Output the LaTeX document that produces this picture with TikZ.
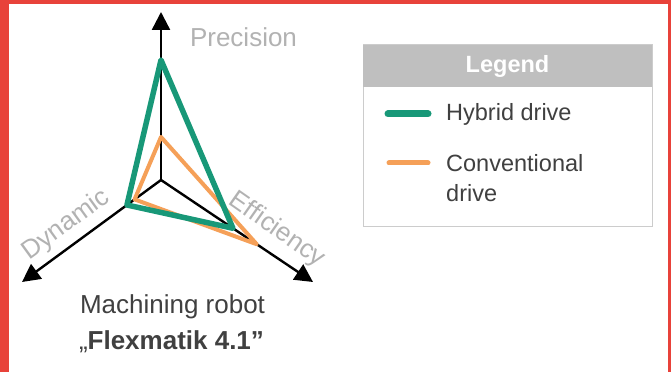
\documentclass[tikz,border=0pt]{standalone}
\usepackage{fontspec}
\setmainfont{Liberation Sans}
\usetikzlibrary{arrows.meta,positioning,calc}
\definecolor{framered}{RGB}{232,66,58}
\definecolor{hybridcolor}{RGB}{24,152,120}
\definecolor{convcolor}{RGB}{245,160,88}
\definecolor{axislabel}{RGB}{178,178,178}
\definecolor{legendgray}{RGB}{191,191,191}
\definecolor{textdark}{RGB}{64,64,64}

\begin{document}
\begin{tikzpicture}[x=1pt, y=1pt,
  axis/.style={-{Triangle[length=18pt, width=18pt]}, line width=2.4pt},
  axlab/.style={text=axislabel, font=\fontsize{26}{30}\selectfont, inner sep=0pt},
  hybrid/.style={draw=hybridcolor, line width=5.5pt, line join=round},
  conv/.style={draw=convcolor, line width=4pt, line join=round},
  title/.style={text=textdark, font=\fontsize{26}{30}\selectfont, inner sep=0pt},
  legtext/.style={text=textdark, font=\fontsize{23.5}{30}\selectfont, inner sep=0pt, align=left}
]
% frame
\fill[framered] (0,0) rectangle (671,372);
\fill[white] (9,0) rectangle (668,368);
\useasboundingbox (0,0) rectangle (671,372);

% axes
\coordinate (C) at (161,192);
\coordinate (P) at (161,360);
\coordinate (D) at (22,90);
\coordinate (E) at (313,90);
\draw[axis] (C) -- (P);
\draw[axis] (C) -- (D);
\draw[axis] (C) -- (E);

\node[axlab] (prec) at (243.5,335) {Precision};
\node[axlab, rotate=36] (dyn) at (66,147) {Dynamic};
\node[axlab, rotate=-35] (eff) at (277,142) {Efficiency};

% profiles
\draw[conv] ($(C)!0.256!(P)$) -- ($(C)!0.19!(D)$) -- ($(C)!0.63!(E)$) -- cycle;
\draw[hybrid] ($(C)!0.714!(P)$) -- ($(C)!0.245!(D)$) -- ($(C)!0.473!(E)$) -- cycle;

% title
\node[title] (robot) at (172.5,65) {Machining robot};
\node[title] (name) at (171.5,30) {„\textbf{Flexmatik 4.1\char"22}};

% legend
\draw[draw=legendgray!80, fill=white, line width=1pt] (363,145) rectangle (652,327);
\fill[legendgray] (363,285) rectangle (652,327);
\node[text=white, font=\bfseries\fontsize{23.5}{30}\selectfont, inner sep=0pt] (leg) at (507.5,306) {Legend};
\coordinate (h1) at (388,258);
\coordinate (h2) at (428,258);
\coordinate (c1) at (389,209);
\coordinate (c2) at (428,209);
\draw[draw=hybridcolor, line width=7pt, line cap=round] (h1) -- (h2);
\draw[draw=convcolor, line width=5pt, line cap=round] (c1) -- (c2);
\node[legtext, anchor=west] (hyb) at (446,258) {Hybrid drive};
\node[legtext, anchor=west] (con) at (446,194) {Conventional\\drive};
\end{tikzpicture}
\end{document}
